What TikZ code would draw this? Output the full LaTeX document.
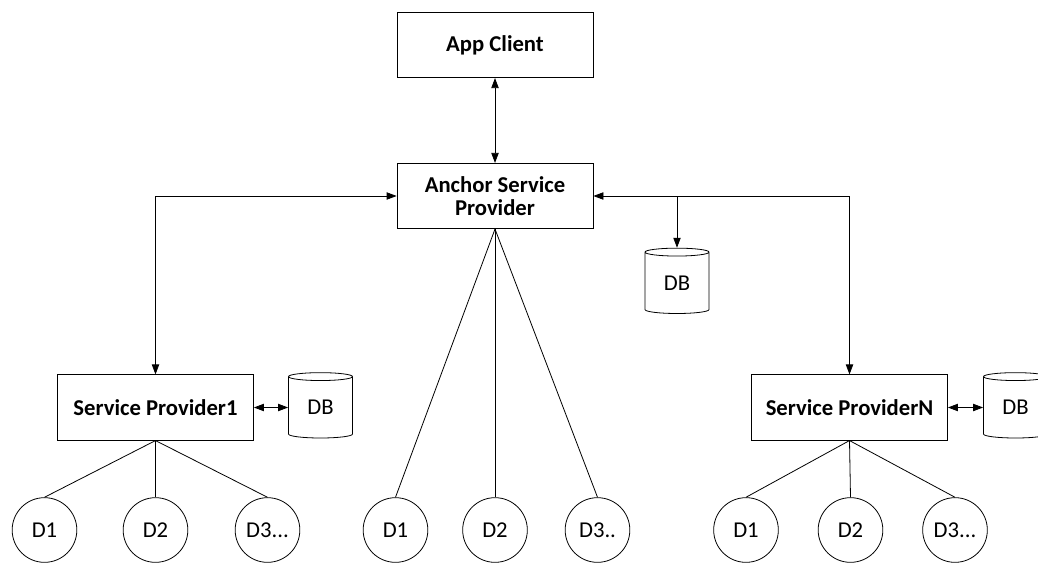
\documentclass[tikz,border=0pt]{standalone}
\usepackage{fontspec}
\setmainfont{Carlito}
\usetikzlibrary{arrows.meta,shapes.geometric}

\begin{document}
\begin{tikzpicture}[x=0.75pt, y=-0.75pt, line width=0.6pt, font=\fontsize{17}{18.5}\selectfont]
	\tikzstyle{box} = [draw, rectangle, minimum width=147pt, minimum height=49pt, font=\fontsize{17}{18.5}\selectfont\bfseries, align=center, inner sep=1pt]
	\tikzstyle{dev} = [draw, circle, minimum size=48.5pt, inner sep=0pt]
	\tikzstyle{db} = [draw, cylinder, shape border rotate=90, aspect=0.3, minimum width=48pt, minimum height=49pt, inner sep=0pt]
	\tikzstyle{link} = [{Triangle[length=7.5pt,width=5.5pt]}-{Triangle[length=7.5pt,width=5.5pt]}]
	\useasboundingbox (0,0) rectangle (1038,563);
	\node[box] (Client) at (495, 45) {App Client};
	\node[box] (Anchor) at (495, 196) {Anchor Service\\[-1pt]Provider};
	\node[db] (AnchorDB) at (677, 283) {DB};
	\node[box] (SP1) at (155.5, 407.5) {Service Provider1};
	\node[db] (SP1DB) at (320.5, 407.5) {DB};
	\node[box] (SPN) at (849.5, 407.5) {Service ProviderN};
	\node[db] (SPNDB) at (1015.5, 407.5) {DB};
	\node[dev] (L1) at (44.5, 530) {D1};
	\node[dev] (L2) at (155.5, 530) {D2};
	\node[dev] (L3) at (267.5, 530) {D3...};
	\node[dev] (M1) at (395.5, 530) {D1};
	\node[dev] (M2) at (495, 530) {D2};
	\node[dev] (M3) at (597.5, 530) {D3..};
	\node[dev] (R1) at (746, 530) {D1};
	\node[dev] (R2) at (850.5, 530) {D2};
	\node[dev] (R3) at (955, 530) {D3...};
	\coordinate (DBjoin) at (Anchor.east -| AnchorDB.north);
	\draw [link] (Client)--(Anchor);
	\draw [link] (Anchor.west) -| (SP1.north);
	\draw [link] (Anchor.east) -| (SPN.north);
	\draw [-{Triangle[length=7.5pt,width=5.5pt]}] (DBjoin)--(AnchorDB.north);
	\draw [link] (SP1)--(SP1DB);
	\draw [link] (SPN)--(SPNDB);
	\draw (SP1.south)--(L1.north);
	\draw (SP1.south)--(L2.north);
	\draw (SP1.south)--(L3.north);
	\draw (Anchor.south)--(M1.north);
	\draw (Anchor.south)--(M2.north);
	\draw (Anchor.south)--(M3.north);
	\draw (SPN.south)--(R1.north);
	\draw (SPN.south)--(R2.north);
	\draw (SPN.south)--(R3.north);
\end{tikzpicture}
\end{document}
